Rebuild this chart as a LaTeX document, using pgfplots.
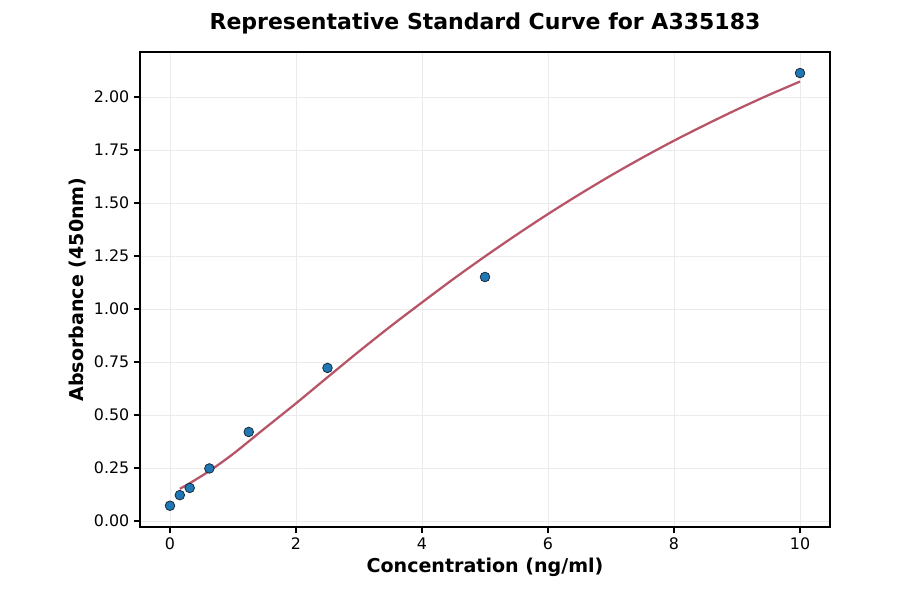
\documentclass[border=0pt]{standalone}
\usepackage{pgfplots}
\pgfplotsset{compat=1.18}
\usepackage{fontspec}
\setmainfont{DejaVu Sans}

\definecolor{ptblue}{HTML}{1F77B4}
\definecolor{ptedge}{HTML}{1B2A3A}
\definecolor{fitred}{RGB}{183,84,104}
\definecolor{gridgray}{RGB}{235,235,235}

\begin{document}
\begin{tikzpicture}
% picture frame: 900 x 594 px at 0.75pt per px, axis box 690 x 475 px
\useasboundingbox (-105pt,-50.25pt) rectangle (570pt,395.25pt);
\begin{axis}[
    at={(0pt,0pt)}, anchor=south west,
    scale only axis,
    width=517.5pt, height=356.25pt,
    xmin=-0.476, xmax=10.476,
    ymin=-0.0283, ymax=2.2123,
    xtick={0,2,4,6,8,10},
    ytick={0,0.25,0.5,0.75,1,1.25,1.5,1.75,2},
    yticklabel style={/pgf/number format/.cd, fixed, fixed zerofill, precision=2},
    /pgf/number format/assume math mode=true,
    tick align=outside,
    major tick length=4.5pt,
    tick style={black, line width=0.8pt},
    xtick pos=lower, ytick pos=left,
    ticklabel style={font=\fontsize{11.9}{13}\selectfont},
    grid=major,
    major grid style={gridgray, line width=0.6pt},
    axis line style={black, line width=1pt},
    title={Representative Standard Curve for A335183},
    title style={at={(axis description cs:0.5,1.0443)}, anchor=center,
        font=\fontsize{16.5}{18}\selectfont\bfseries},
    xlabel={Concentration (ng/ml)},
    xlabel style={at={(axis description cs:0.5,-0.0842)}, anchor=center,
        font=\fontsize{14.3}{16}\selectfont\bfseries},
    ylabel={Absorbance (450nm)},
    ylabel style={at={(axis description cs:-0.0899,0.5)}, anchor=center,
        font=\fontsize{14.3}{16}\selectfont\bfseries},
]
% fitted curve
\addplot[fitred, line width=1.7pt, smooth, no markers] coordinates {
    (0.156,0.152) (0.3125,0.178) (0.625,0.236) (1,0.316) (1.5,0.436)
    (2,0.555) (2.5,0.678) (3,0.800) (3.5,0.918) (4,1.031) (4.5,1.142)
    (5,1.248) (5.5,1.350) (6,1.448) (6.5,1.541) (7,1.630) (7.5,1.714)
    (8,1.794) (8.5,1.869) (9,1.941) (9.5,2.009) (10,2.073)
};
% standards
\addplot[only marks, mark=*, mark size=3.6pt,
    mark options={fill=ptblue, draw=ptedge, line width=0.6pt}] coordinates {
    (0,0.072) (0.156,0.122) (0.3125,0.156) (0.625,0.248)
    (1.25,0.420) (2.5,0.722) (5,1.151) (10,2.113)
};
\end{axis}
\end{tikzpicture}
\end{document}
